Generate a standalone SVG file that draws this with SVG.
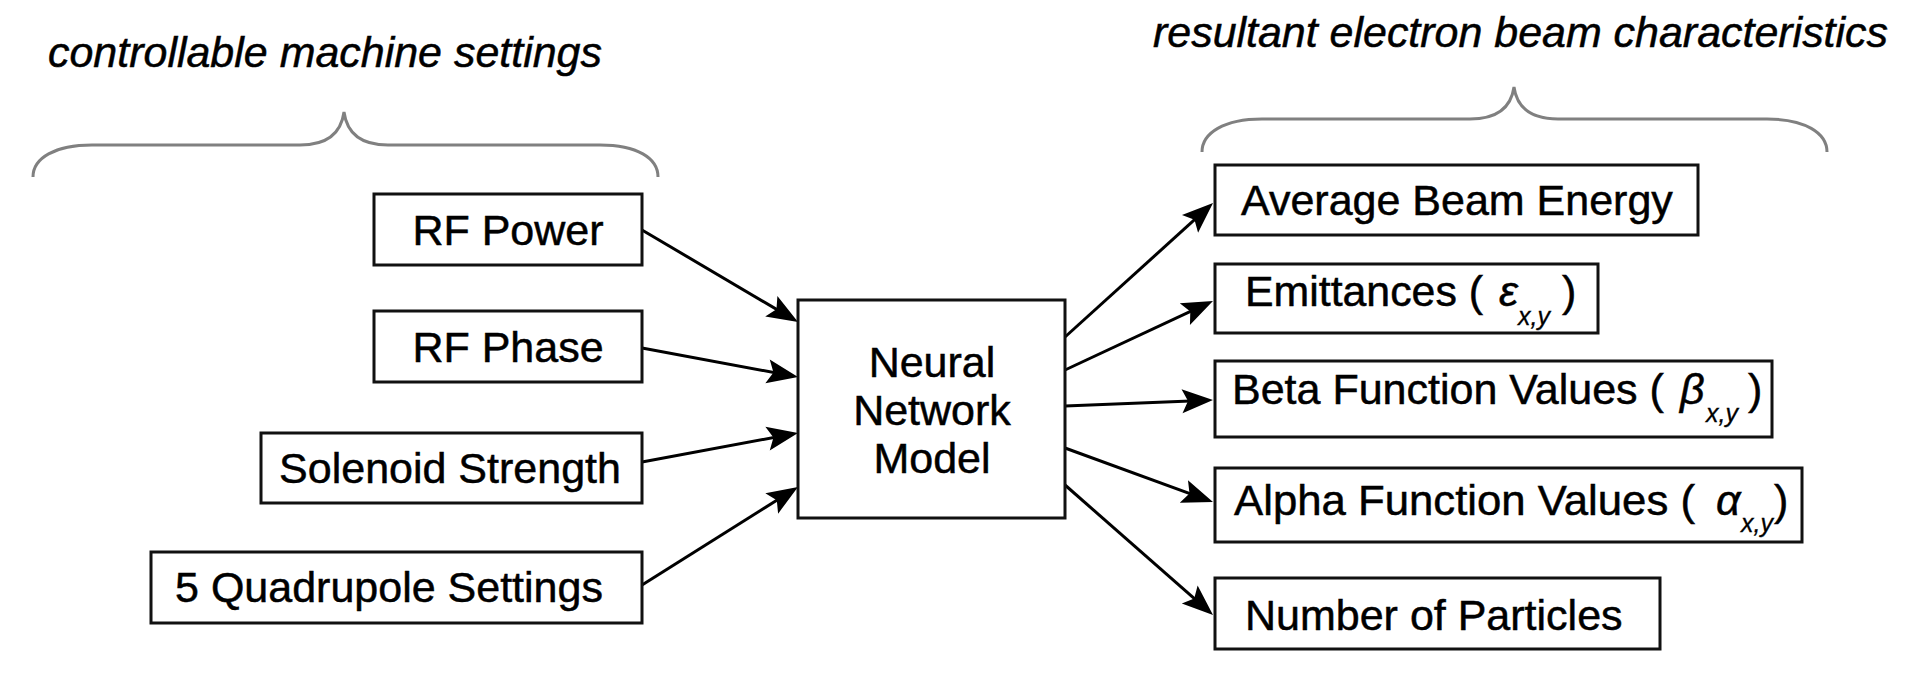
<svg xmlns="http://www.w3.org/2000/svg" width="1920" height="696" viewBox="0 0 1920 696">
<style>
  .box { fill: #ffffff; stroke: #111111; stroke-width: 3; }
  .lbl { font-family: "Liberation Sans", Arial, sans-serif; font-size: 43px; fill: #000000; stroke: #000000; stroke-width: 0.5; }
  .mid { text-anchor: middle; }
  .title { font-family: "Liberation Sans", Arial, sans-serif; font-size: 42px; font-style: italic; fill: #000000; stroke: #000000; stroke-width: 0.5; }
  .greek { font-family: "Liberation Sans", "DejaVu Sans", sans-serif; font-size: 43px; font-style: italic; fill: #000000; stroke: #000000; stroke-width: 0.5; }
  .sub { font-family: "Liberation Sans", Arial, sans-serif; font-size: 25px; font-style: italic; fill: #000000; stroke: #000000; stroke-width: 0.3; }
  .brace { fill: none; stroke: #808080; stroke-width: 3; }
  .conn { fill: none; stroke: #000000; stroke-width: 3; }
</style>
<defs>
  <marker id="arrow" markerUnits="userSpaceOnUse" markerWidth="40" markerHeight="30" refX="0" refY="0" orient="auto" overflow="visible">
    <path d="M10,0 L-21,-12 L-15,0 L-21,12 Z" fill="#000000"/>
  </marker>
</defs>
<rect width="1920" height="696" fill="#ffffff"/>

<g id="titles">
  <text class="title" x="48" y="67" textLength="554" lengthAdjust="spacingAndGlyphs">controllable machine settings</text>
  <text class="title" x="1153" y="47" textLength="735" lengthAdjust="spacingAndGlyphs">resultant electron beam characteristics</text>
</g>

<g id="braces">
  <path class="brace" d="M33,177 C33,158 55,145 92,145 L300,145 C327,145 341,134 344,112 C347,134 361,145 388,145 L600,145 C637,145 658,158 658,177"/>
  <path class="brace" d="M1202,152 C1202,133 1224,119 1262,119 L1470,119 C1497,119 1511,108 1514,87 C1517,108 1531,119 1558,119 L1767,119 C1805,119 1827,133 1827,152"/>
</g>

<g id="connectors">
  <line class="conn" x1="642" y1="230" x2="789.4" y2="316.9" marker-end="url(#arrow)"/>
  <line class="conn" x1="642" y1="348" x2="788.2" y2="375.2" marker-end="url(#arrow)"/>
  <line class="conn" x1="642" y1="462" x2="788.2" y2="434.8" marker-end="url(#arrow)"/>
  <line class="conn" x1="642" y1="585" x2="789.5" y2="492.3" marker-end="url(#arrow)"/>
  <line class="conn" x1="1065" y1="337" x2="1205.6" y2="209.7" marker-end="url(#arrow)"/>
  <line class="conn" x1="1065" y1="370" x2="1203.9" y2="305.2" marker-end="url(#arrow)"/>
  <line class="conn" x1="1065" y1="406" x2="1203.0" y2="400.4" marker-end="url(#arrow)"/>
  <line class="conn" x1="1065" y1="448" x2="1203.6" y2="498.6" marker-end="url(#arrow)"/>
  <line class="conn" x1="1065" y1="485" x2="1205.5" y2="608.4" marker-end="url(#arrow)"/>
</g>

<g id="rf-power">
  <rect class="box" x="374" y="194" width="268" height="71"/>
  <text class="lbl mid" x="508" y="245">RF Power</text>
</g>
<g id="rf-phase">
  <rect class="box" x="374" y="311" width="268" height="71"/>
  <text class="lbl mid" x="508" y="362">RF Phase</text>
</g>
<g id="solenoid-strength">
  <rect class="box" x="261" y="433" width="381" height="70"/>
  <text class="lbl mid" x="450" y="483">Solenoid Strength</text>
</g>
<g id="quadrupole-settings">
  <rect class="box" x="151" y="552" width="491" height="71"/>
  <text class="lbl mid" x="389" y="602">5 Quadrupole Settings</text>
</g>

<g id="neural-network-model">
  <rect class="box" x="798" y="300" width="267" height="218"/>
  <text class="lbl mid" x="932" y="377">Neural</text>
  <text class="lbl mid" x="932" y="425">Network</text>
  <text class="lbl mid" x="932" y="473">Model</text>
</g>

<g id="average-beam-energy">
  <rect class="box" x="1215" y="165" width="483" height="70"/>
  <text class="lbl" x="1241" y="215">Average Beam Energy</text>
</g>
<g id="emittances">
  <rect class="box" x="1215" y="264" width="383" height="69"/>
  <text class="lbl" x="1245" y="306" textLength="238" lengthAdjust="spacingAndGlyphs">Emittances (</text>
  <text class="greek" x="1499" y="306">ε</text>
  <text class="sub" x="1518" y="325">x,y</text>
  <text class="lbl" x="1562" y="306">)</text>
</g>
<g id="beta-function-values">
  <rect class="box" x="1215" y="361" width="557" height="76"/>
  <text class="lbl" x="1232" y="404">Beta Function Values (</text>
  <text class="greek" x="1680" y="404">β</text>
  <text class="sub" x="1706" y="422">x,y</text>
  <text class="lbl" x="1748" y="404">)</text>
</g>
<g id="alpha-function-values">
  <rect class="box" x="1215" y="468" width="587" height="74"/>
  <text class="lbl" x="1234" y="515" textLength="461" lengthAdjust="spacingAndGlyphs">Alpha Function Values (</text>
  <text class="greek" x="1716" y="515">α</text>
  <text class="sub" x="1741" y="532">x,y</text>
  <text class="lbl" x="1774" y="515">)</text>
</g>
<g id="number-of-particles">
  <rect class="box" x="1215" y="578" width="445" height="71"/>
  <text class="lbl" x="1245" y="630">Number of Particles</text>
</g>
</svg>
